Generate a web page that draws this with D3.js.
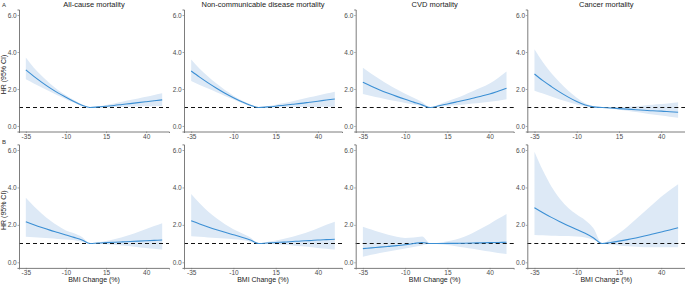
<!DOCTYPE html>
<html>
<head>
<meta charset="utf-8">
<script src="https://cdn.jsdelivr.net/npm/d3@7"></script>
<style>
  body { margin: 0; background: #fff; }
  svg { display: block; font-family: "Liberation Sans", Arial, sans-serif; }
</style>
</head>
<body>
<script>
// BMI change grid shared by every panel
const bmi = [-35, -30, -25, -20, -15, -10, -5, 0, 5, 10, 15, 20, 25, 30, 35, 40, 45, 50];

const titles = ['All-cause mortality', 'Non-communicable disease mortality', 'CVD mortality', 'Cancer mortality'];
const xTicks = [-35, -10, 15, 40];
const yTicks = [0, 2, 4, 6];

// row A
const hrA1 = [3.03, 2.68, 2.36, 2.06, 1.79, 1.55, 1.32, 1.12, 1.00, 1.03, 1.07, 1.11, 1.16, 1.21, 1.26, 1.31, 1.36, 1.41];
const loA1 = [2.52, 2.30, 2.08, 1.86, 1.65, 1.45, 1.25, 1.08, 1.00, 0.99, 1.00, 1.02, 1.03, 1.04, 1.05, 1.06, 1.07, 1.08];
const hiA1 = [3.71, 3.15, 2.70, 2.30, 1.95, 1.66, 1.40, 1.17, 1.00, 1.07, 1.14, 1.22, 1.31, 1.40, 1.49, 1.58, 1.68, 1.77];

const hrA2 = [2.97, 2.64, 2.33, 2.04, 1.77, 1.53, 1.31, 1.12, 1.00, 1.03, 1.07, 1.12, 1.17, 1.22, 1.28, 1.34, 1.40, 1.46];
const loA2 = [2.43, 2.22, 2.02, 1.82, 1.62, 1.43, 1.24, 1.07, 1.00, 0.99, 1.00, 1.01, 1.02, 1.03, 1.03, 1.03, 1.04, 1.04];
const hiA2 = [3.60, 3.10, 2.68, 2.29, 1.94, 1.64, 1.38, 1.17, 1.00, 1.07, 1.15, 1.24, 1.34, 1.44, 1.55, 1.65, 1.75, 1.85];

const hrA3 = [2.36, 2.15, 1.95, 1.77, 1.60, 1.44, 1.29, 1.14, 1.00, 1.09, 1.19, 1.29, 1.39, 1.50, 1.61, 1.73, 1.88, 2.04];
const loA3 = [1.73, 1.62, 1.52, 1.42, 1.33, 1.24, 1.16, 1.08, 1.00, 1.04, 1.08, 1.12, 1.16, 1.21, 1.26, 1.31, 1.37, 1.44];
const hiA3 = [3.15, 2.82, 2.52, 2.24, 1.98, 1.74, 1.52, 1.30, 1.00, 1.16, 1.33, 1.50, 1.68, 1.88, 2.08, 2.30, 2.60, 2.94];

const hrA4 = [2.81, 2.45, 2.13, 1.83, 1.56, 1.32, 1.13, 1.03, 1.00, 0.97, 0.94, 0.91, 0.88, 0.85, 0.82, 0.80, 0.77, 0.74];
const loA4 = [1.91, 1.75, 1.59, 1.43, 1.29, 1.16, 1.05, 1.00, 1.00, 0.94, 0.88, 0.82, 0.75, 0.69, 0.62, 0.56, 0.50, 0.45];
const hiA4 = [4.15, 3.45, 2.85, 2.35, 1.90, 1.53, 1.23, 1.07, 1.00, 1.01, 1.02, 1.04, 1.07, 1.11, 1.15, 1.19, 1.23, 1.28];

// row B
const hrB1 = [2.17, 2.01, 1.86, 1.72, 1.59, 1.46, 1.33, 1.19, 1.00, 1.03, 1.05, 1.07, 1.09, 1.11, 1.13, 1.15, 1.17, 1.19];
const loB1 = [1.37, 1.34, 1.31, 1.28, 1.25, 1.22, 1.18, 1.10, 1.00, 0.99, 0.97, 0.94, 0.90, 0.86, 0.81, 0.77, 0.73, 0.69];
const hiB1 = [3.45, 3.00, 2.60, 2.25, 1.95, 1.70, 1.55, 1.35, 1.00, 1.07, 1.14, 1.23, 1.34, 1.47, 1.62, 1.78, 1.94, 2.09];

const hrB2 = [2.22, 2.05, 1.89, 1.74, 1.60, 1.47, 1.34, 1.19, 1.00, 1.03, 1.06, 1.08, 1.11, 1.14, 1.16, 1.19, 1.21, 1.23];
const loB2 = [1.39, 1.36, 1.33, 1.30, 1.27, 1.23, 1.19, 1.10, 1.00, 0.99, 0.97, 0.94, 0.90, 0.86, 0.82, 0.77, 0.73, 0.69];
const hiB2 = [3.65, 3.15, 2.72, 2.35, 2.03, 1.77, 1.55, 1.33, 1.00, 1.08, 1.16, 1.26, 1.37, 1.50, 1.65, 1.82, 2.00, 2.17];

const hrB3 = [0.73, 0.77, 0.81, 0.85, 0.89, 0.94, 1.00, 1.06, 1.00, 1.00, 1.01, 1.01, 1.02, 1.03, 1.04, 1.05, 1.06, 1.07];
const loB3 = [0.30, 0.40, 0.50, 0.58, 0.66, 0.74, 0.82, 0.90, 1.00, 0.96, 0.92, 0.86, 0.79, 0.72, 0.64, 0.57, 0.50, 0.44];
const hiB3 = [1.90, 1.75, 1.60, 1.47, 1.36, 1.30, 1.32, 1.38, 1.00, 1.05, 1.12, 1.22, 1.36, 1.56, 1.80, 2.05, 2.32, 2.58];

const hrB4 = [2.92, 2.65, 2.40, 2.17, 1.95, 1.75, 1.55, 1.30, 1.00, 1.06, 1.13, 1.21, 1.30, 1.40, 1.51, 1.62, 1.73, 1.85];
const loB4 = [1.46, 1.44, 1.42, 1.41, 1.40, 1.38, 1.33, 1.20, 1.00, 0.95, 0.90, 0.86, 0.83, 0.81, 0.80, 0.80, 0.80, 0.80];
const hiB4 = [5.91, 4.90, 4.05, 3.40, 2.90, 2.55, 2.25, 1.80, 1.00, 1.25, 1.55, 1.90, 2.30, 2.70, 3.10, 3.50, 3.85, 4.17];

const rows = [
  { label: 'A', panels: [[hrA1, loA1, hiA1], [hrA2, loA2, hiA2], [hrA3, loA3, hiA3], [hrA4, loA4, hiA4]] },
  { label: 'B', panels: [[hrB1, loB1, hiB1], [hrB2, loB2, hiB2], [hrB3, loB3, hiB3], [hrB4, loB4, hiB4]] }
];

const W = 685, H = 284;
const colLeft = [19, 184, 355.7, 527.3];
const colWidth = [150, 158, 158, 158];
const rowY = [[131.5, 9.5], [267.9, 144.4]]; // [bottom, top] pixel of y range

const lineColor = '#3b8fd4';
const bandColor = '#dde9f6';
const axisColor = '#6e6e6e';
const textColor = '#4d4d4d';

const svg = d3.select('body').append('svg')
  .attr('width', W)
  .attr('height', H);

rows.forEach((row, r) => {
  svg.append('text')
    .attr('x', 2)
    .attr('y', r === 0 ? 7 : 144)
    .attr('font-size', 6)
    .attr('fill', '#333')
    .text(row.label);

  row.panels.forEach((p, c) => {
    const [hr, lo, hi] = p;
    const x = d3.scaleLinear([-39.25, 54.25], [colLeft[c], colLeft[c] + colWidth[c]]);
    const y = d3.scaleLinear([-0.3, 6.3], rowY[r]);
    const g = svg.append('g');

    const pts = bmi.map((b, i) => ({ b, hr: hr[i], lo: lo[i], hi: hi[i] }));

    g.append('path')
      .datum(pts)
      .attr('d', d3.area()
        .x(d => x(d.b))
        .y0(d => y(d.lo))
        .y1(d => y(d.hi))
        .curve(d3.curveMonotoneX))
      .attr('fill', bandColor);

    g.append('line')
      .attr('x1', x.range()[0])
      .attr('x2', x.range()[1])
      .attr('y1', y(1))
      .attr('y2', y(1))
      .attr('stroke', '#111')
      .attr('stroke-width', 1.1)
      .attr('stroke-dasharray', '4,3');

    g.append('path')
      .datum(pts)
      .attr('d', d3.line()
        .x(d => x(d.b))
        .y(d => y(d.hr))
        .curve(d3.curveMonotoneX))
      .attr('fill', 'none')
      .attr('stroke', lineColor)
      .attr('stroke-width', 1.1);

    // axes
    const yAxis = g.append('g')
      .attr('transform', `translate(${x.range()[0]},0)`)
      .call(d3.axisLeft(y).tickValues(yTicks).tickFormat(d3.format('.1f')).tickSize(1.5).tickPadding(0.8));
    const xAxis = g.append('g')
      .attr('transform', `translate(0,${y.range()[0]})`)
      .call(d3.axisBottom(x).tickValues(xTicks).tickSize(1.5).tickPadding(1).tickFormat(d => d));
    [yAxis, xAxis].forEach(a => {
      a.select('.domain').attr('stroke', axisColor).attr('stroke-width', 0.9);
      a.selectAll('.tick line').attr('stroke', axisColor).attr('stroke-width', 0.6);
      a.selectAll('.tick text')
        .attr('fill', textColor)
        .attr('font-size', 6.5)
        .attr('font-family', '"Liberation Sans", Arial, sans-serif');
    });

    if (r === 0) {
      g.append('text')
        .attr('x', (x.range()[0] + x.range()[1]) / 2)
        .attr('y', 7)
        .attr('text-anchor', 'middle')
        .attr('font-size', 7.5)
        .attr('fill', '#222')
        .text(titles[c]);
    } else {
      g.append('text')
        .attr('x', (x.range()[0] + x.range()[1]) / 2)
        .attr('y', 282)
        .attr('text-anchor', 'middle')
        .attr('font-size', 7)
        .attr('fill', '#222')
        .text('BMI Change (%)');
    }

    if (c === 0) {
      const cy = (y.range()[0] + y.range()[1]) / 2 + 4;
      g.append('text')
        .attr('transform', `translate(6,${cy}) rotate(-90)`)
        .attr('text-anchor', 'middle')
        .attr('font-size', 7)
        .attr('fill', '#222')
        .text('HR (95% CI)');
    }
  });
});
</script>
</body>
</html>
